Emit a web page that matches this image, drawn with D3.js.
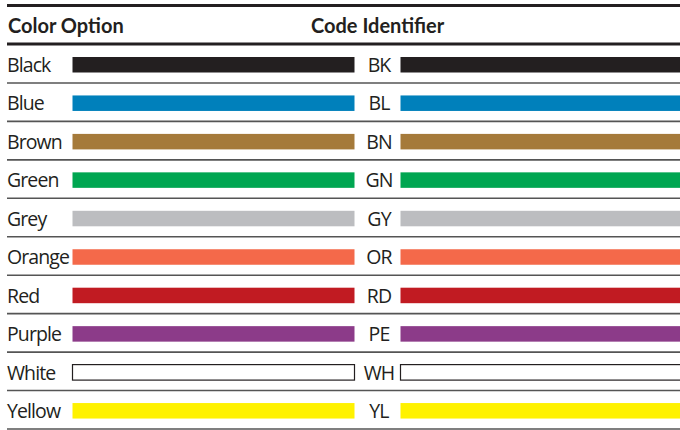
<!DOCTYPE html>
<html>
<head>
<meta charset="utf-8">
<script src="https://cdn.jsdelivr.net/npm/d3@7"></script>
<style>
  body { margin: 0; background: #fff; }
  text { font-family: "Open Sans", Lato, sans-serif; fill: #231f20; }
  text.head { font-family: Lato, "Open Sans", sans-serif; }
</style>
</head>
<body>
<script>
// table data
var colorNames = ["Black","Blue","Brown","Green","Grey","Orange","Red","Purple","White","Yellow"];
var codes      = ["BK","BL","BN","GN","GY","OR","RD","PE","WH","YL"];
var swatches   = ["#231f20","#0080bb","#a57a3a","#00a651","#bcbdc0","#f4694a","#c11b22","#8c3b89","#ffffff","#fff200"];
var headers    = ["Color Option","Code Identifier"];

var width = 680, height = 430;

var svg = d3.select("body").append("svg")
    .attr("width", width)
    .attr("height", height);

// rows
var y = d3.scaleBand().domain(colorNames).range([44.5, 429]);
// columns: name bar, code, code bar
var x = d3.scaleLinear().domain([0, 1]).range([7, 680]);

var barH = 15.5, barOff = 12.5;

// top rule + header rule
svg.append("rect").attr("x", x(0)).attr("y", 4).attr("width", x(1) - x(0)).attr("height", 3).style("fill", "#231f20");
svg.append("rect").attr("x", x(0)).attr("y", 42.5).attr("width", x(1) - x(0)).attr("height", 3).style("fill", "#231f20");

svg.append("text").attr("class", "head").attr("x", 8).attr("y", 33).style("font-weight", "bold").style("font-size", "20px").text(headers[0]);
svg.append("text").attr("class", "head").attr("x", 311).attr("y", 33).style("font-weight", "bold").style("font-size", "20px").text(headers[1]);

var rows = svg.selectAll(".row").data(colorNames).enter().append("g")
    .attr("class", "row")
    .attr("transform", function(d) { return "translate(0," + y(d) + ")"; });

rows.append("text")
    .attr("x", 7)
    .attr("y", 27.5)
    .style("font-size", "19.5px")
    .style("letter-spacing", "-0.9px")
    .text(function(d) { return d; });

rows.append("rect")
    .attr("x", 72.5).attr("y", barOff)
    .attr("width", 282).attr("height", barH)
    .style("fill", function(d, i) { return swatches[i]; })
    .style("stroke", function(d, i) { return swatches[i] == "#ffffff" ? "#231f20" : "none"; })
    .style("stroke-width", 1.2);

rows.append("text")
    .attr("x", 379)
    .attr("y", 27.5)
    .attr("text-anchor", "middle")
    .style("font-size", "19.5px")
    .style("letter-spacing", "-0.9px")
    .text(function(d, i) { return codes[i]; });

rows.append("rect")
    .attr("x", 400.5).attr("y", barOff)
    .attr("width", 290).attr("height", barH)
    .style("fill", function(d, i) { return swatches[i]; })
    .style("stroke", function(d, i) { return swatches[i] == "#ffffff" ? "#231f20" : "none"; })
    .style("stroke-width", 1.2);

// row divider
rows.append("line")
    .attr("x1", x(0)).attr("x2", x(1))
    .attr("y1", y.bandwidth()).attr("y2", y.bandwidth())
    .style("stroke", "#555")
    .style("stroke-width", 1.6);
</script>
</body>
</html>
